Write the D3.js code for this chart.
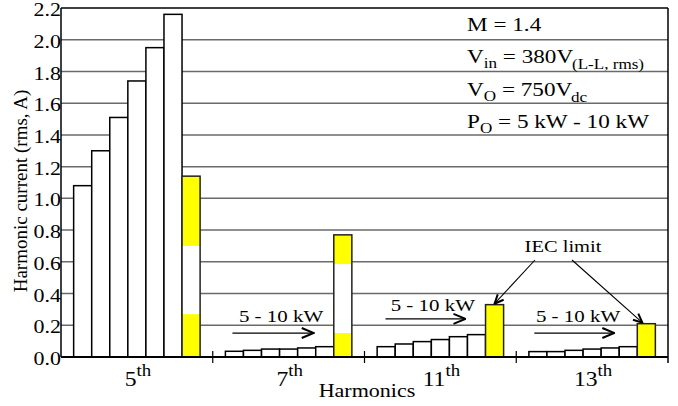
<!DOCTYPE html>
<html>
<head>
<meta charset="utf-8">
<script src="https://cdn.jsdelivr.net/npm/d3@7"></script>
<style>
  html, body { margin: 0; padding: 0; background: #fff; }
  svg, svg text { font-family: "Liberation Serif", Tinos, "Times New Roman", serif; }
</style>
</head>
<body>
<svg id="chart" width="678" height="406"></svg>
<script>
// ---------------- data ----------------
const categories = ["5", "7", "11", "13"];
const powerSteps = ["5 kW", "6 kW", "7 kW", "8 kW", "9 kW", "10 kW"];
const h5  = [1.08, 1.30, 1.51, 1.74, 1.95, 2.16];
const h7  = [0.036, 0.042, 0.050, 0.050, 0.057, 0.065];
const h11 = [0.065, 0.082, 0.097, 0.110, 0.128, 0.141];
const h13 = [0.034, 0.034, 0.042, 0.050, 0.057, 0.065];
const currents = [h5, h7, h11, h13];
const iecLimit = [1.14, 0.77, 0.33, 0.21];
const limitWhiteBand = [[0.27, 0.70], [0.151, 0.586], null, null];
const yTicks = [0.0, 0.2, 0.4, 0.6, 0.8, 1.0, 1.2, 1.4, 1.6, 1.8, 2.0, 2.2];
const yLabel = "Harmonic current (rms, A)";
const xLabel = "Harmonics";
const rangeLabel = "5 - 10 kW";
const limitLabel = "IEC limit";

// ---------------- layout ----------------
const FONT = "'Liberation Serif', Tinos, 'Times New Roman', serif";
const svg = d3.select("#chart");
const W = 678, H = 406;
const L = 61, R = 668, T = 8, B = 357;
const SX = 1.22; // horizontal glyph stretch of the original figure

svg.append("rect").attr("width", W).attr("height", H).attr("fill", "#fff");

const y = d3.scaleLinear().domain([0, 2.2]).range([B, T]);
const x0 = d3.scaleBand().domain(categories).range([L, R]).padding(0);
const x1 = d3.scaleBand().domain(d3.range(7)).range([0, x0.bandwidth()])
  .paddingInner(0).paddingOuter(0.7);
const bw = x1.bandwidth();

const defs = svg.append("defs");
function marker(id, w, h) {
  defs.append("marker").attr("id", id)
    .attr("viewBox", `0 0 ${w} ${h}`).attr("refX", w - 1).attr("refY", h / 2)
    .attr("markerWidth", w).attr("markerHeight", h)
    .attr("markerUnits", "userSpaceOnUse").attr("orient", "auto")
    .append("path")
    .attr("d", `M1,1 L${w - 1},${h / 2} L1,${h - 1}`)
    .attr("fill", "none").attr("stroke", "#000").attr("stroke-width", 2);
}
marker("arrowBig", 14, 12);
marker("arrowSmall", 11, 10);

function stext(g, px, py, sx, size, anchor) {
  return g.append("text")
    .attr("transform", `translate(${px},${py}) scale(${sx},1)`)
    .attr("font-family", FONT)
    .attr("font-size", size).attr("text-anchor", anchor || "start")
    .attr("fill", "#000");
}

// gridlines
svg.append("g").selectAll("line").data(yTicks.filter(d => d > 0 && d < 2.2)).join("line")
  .attr("x1", L).attr("x2", R)
  .attr("y1", d => y(d)).attr("y2", d => y(d))
  .attr("stroke", "#6a6a6a").attr("stroke-width", 1.5);

// bars
const groups = svg.append("g").selectAll("g").data(categories).join("g")
  .attr("transform", d => `translate(${x0(d)},0)`);

groups.each(function (cat, gi) {
  const g = d3.select(this);
  g.selectAll("rect.pw").data(currents[gi]).join("rect").attr("class", "pw")
    .attr("x", (d, i) => x1(i)).attr("width", bw)
    .attr("y", d => y(d)).attr("height", d => y(0) - y(d))
    .attr("fill", "#fff").attr("stroke", "#000").attr("stroke-width", 1.5);
  // IEC limit bar
  g.append("rect")
    .attr("x", x1(6)).attr("width", bw)
    .attr("y", y(iecLimit[gi])).attr("height", y(0) - y(iecLimit[gi]))
    .attr("fill", "#ffff00");
  const band = limitWhiteBand[gi];
  if (band) {
    g.append("rect")
      .attr("x", x1(6)).attr("width", bw)
      .attr("y", y(band[1])).attr("height", y(band[0]) - y(band[1]))
      .attr("fill", "#fff");
  }
  g.append("rect")
    .attr("x", x1(6)).attr("width", bw)
    .attr("y", y(iecLimit[gi])).attr("height", y(0) - y(iecLimit[gi]))
    .attr("fill", "none").attr("stroke", "#222").attr("stroke-width", 1.5);
});

// frame: top & right border, axes
svg.append("line").attr("x1", L).attr("x2", R).attr("y1", y(2.2)).attr("y2", y(2.2))
  .attr("stroke", "#000").attr("stroke-width", 1.5);
svg.append("line").attr("x1", R).attr("x2", R).attr("y1", y(2.2)).attr("y2", B + 6)
  .attr("stroke", "#000").attr("stroke-width", 1.5);
svg.append("line").attr("x1", L).attr("x2", L).attr("y1", y(2.2)).attr("y2", B)
  .attr("stroke", "#000").attr("stroke-width", 1.5);
svg.append("line").attr("x1", L).attr("x2", R).attr("y1", B).attr("y2", B)
  .attr("stroke", "#000").attr("stroke-width", 1.8);
// category separators ticks
svg.append("g").selectAll("line").data(categories.slice(1)).join("line")
  .attr("x1", d => x0(d)).attr("x2", d => x0(d))
  .attr("y1", B - 6).attr("y2", B + 6)
  .attr("stroke", "#000").attr("stroke-width", 1.2);

// y tick labels
const yg = svg.append("g");
yTicks.forEach(v => {
  stext(yg, L, y(v), SX, 18, "end").attr("dy", "0.45em").text(d3.format(".1f")(v));
});

// y label
svg.append("text")
  .attr("transform", `translate(27,191) rotate(-90)`)
  .attr("font-family", FONT)
  .attr("text-anchor", "middle").attr("font-size", 19).text(yLabel);

// category labels
const cg = svg.append("g");
categories.forEach(c => {
  const t = stext(cg, x0(c) + x0.bandwidth() / 2 + 1, 386, 1.18, 20, "middle");
  t.append("tspan").text(c);
  t.append("tspan").attr("font-size", 16).attr("dy", -10).text("th");
});

// x label
stext(svg, 367, 397, 1.13, 19.5, "middle").text(xLabel);

// "5 - 10 kW" annotations (groups 7th, 11th, 13th)
const rangeAnn = [
  { cat: "7",  arrowY: 0.151, labelY: 0.222, from: 0.39, to: 4.89, labelAt: 0.75 },
  { cat: "11", arrowY: 0.240, labelY: 0.290, from: 0.46, to: 4.89, labelAt: 0.75 },
  { cat: "13", arrowY: 0.151, labelY: 0.222, from: 0.30, to: 4.73, labelAt: 0.39 }
];
const ag = svg.append("g");
rangeAnn.forEach(a => {
  const gx = x0(a.cat) + x1(0);
  ag.append("line")
    .attr("x1", gx + a.from * bw).attr("x2", gx + a.to * bw)
    .attr("y1", y(a.arrowY)).attr("y2", y(a.arrowY))
    .attr("stroke", "#000").attr("stroke-width", 1.2)
    .attr("marker-end", "url(#arrowBig)");
  stext(ag, gx + a.labelAt * bw, y(a.labelY), 1.23, 17, "start").text(rangeLabel);
});

// IEC limit annotation
const iecX = 563, iecY = 0.664;
stext(svg, iecX, y(iecY), 1.17, 17.5, "middle").text(limitLabel);
const iecTargets = [
  { gi: 2, from: [535, 260], dx: 0.5 },
  { gi: 3, from: [572, 260], dx: 0.28 }
];
iecTargets.forEach(t => {
  const tx = x0(categories[t.gi]) + x1(6) + t.dx * bw;
  const ty = y(iecLimit[t.gi]) - 1;
  svg.append("line")
    .attr("x1", t.from[0]).attr("y1", t.from[1]).attr("x2", tx).attr("y2", ty)
    .attr("stroke", "#000").attr("stroke-width", 1.1)
    .attr("marker-end", "url(#arrowSmall)");
});

// parameter box text
const pg = svg.append("g");
const bx = 467, bsx = 1.22;
stext(pg, bx, 31, bsx, 19).text("M = 1.4");
{
  const t = stext(pg, bx, 63, bsx, 19);
  t.append("tspan").text("V");
  t.append("tspan").attr("font-size", 14).attr("dy", 5).text("in");
  t.append("tspan").attr("dy", -5).text(" = 380");
  t.append("tspan").text("V");
  t.append("tspan").attr("font-size", 14).attr("dy", 6).attr("dx", -1).text("(L-L, rms)");
}
{
  const t = stext(pg, bx, 96, bsx, 19);
  t.append("tspan").text("V");
  t.append("tspan").attr("font-size", 14).attr("dy", 5).text("O");
  t.append("tspan").attr("dy", -5).text(" = 750");
  t.append("tspan").text("V");
  t.append("tspan").attr("font-size", 14).attr("dy", 6).attr("dx", -1).text("dc");
}
{
  const t = stext(pg, bx, 128, bsx, 19);
  t.append("tspan").text("P");
  t.append("tspan").attr("font-size", 14).attr("dy", 5).text("O");
  t.append("tspan").attr("dy", -5).text(" = 5 kW - 10 kW");
}
</script>
</body>
</html>
